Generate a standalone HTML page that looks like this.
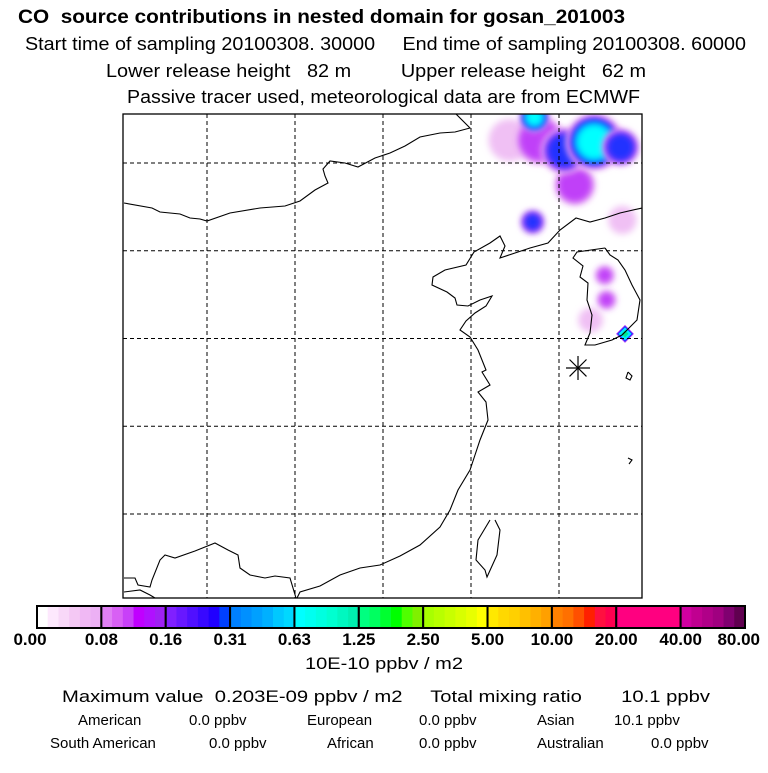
<!DOCTYPE html>
<html><head><meta charset="utf-8"><style>
body{margin:0;background:#fff;}
svg text{font-family:"Liberation Sans",Arial,sans-serif;white-space:pre;}
</style></head><body>
<svg id="chart" width="768" height="768" viewBox="0 0 768 768" xmlns="http://www.w3.org/2000/svg" xml:space="preserve">
<defs>
<filter id="blur" x="-50%" y="-50%" width="200%" height="200%"><feGaussianBlur stdDeviation="3.5"/></filter>
<clipPath id="mapclip"><rect x="123" y="114" width="519" height="484"/></clipPath>
</defs>
<g font-size="18" fill="#000">
<text x="18" y="23" font-weight="bold" font-size="19" textLength="607" lengthAdjust="spacingAndGlyphs">CO  source contributions in nested domain for gosan_201003</text>
<text x="25" y="50" textLength="721" lengthAdjust="spacingAndGlyphs">Start time of sampling 20100308. 30000     End time of sampling 20100308. 60000</text>
<text x="106" y="77" textLength="540" lengthAdjust="spacingAndGlyphs">Lower release height   82 m         Upper release height   62 m</text>
<text x="127" y="103" textLength="513" lengthAdjust="spacingAndGlyphs">Passive tracer used, meteorological data are from ECMWF</text>
</g>
<g id="plume" clip-path="url(#mapclip)"></g>
<g id="grid" stroke="#000" stroke-width="1" stroke-dasharray="4,3"></g>
<g clip-path="url(#mapclip)" fill="none" stroke="#000" stroke-width="1.1">
<polyline points="124,203 152,208 160,212 180,214 190,218 200,219 207,221 230,213 260,208 285,206 300,201 315,190 328,183 325,176 323,169 330,161 345,163 358,167 375,158 390,153 405,146 420,137 440,133 455,132 470,128 456,114"/>
<polyline points="124,578 135,578 138,585 150,587 152,580 160,560 165,555 175,558 195,551 215,543 228,550 238,555 240,568 250,575 265,578 275,576 290,578 296,598"/>
<polyline points="124,592 140,590 150,595 155,598"/>
<polyline points="642,208 620,213 605,218 590,222 576,218 560,230 548,243 530,248 515,253 500,258 505,246 500,236 490,243 474,252 466,265 445,270 433,277 432,285 447,292 455,298 457,305 468,306 480,300 492,296 486,306 475,313 466,321 460,330 470,337 478,350 486,370 482,372 490,385 478,392 486,402 488,420 480,440 475,455 470,470 458,490 450,510 440,527 420,545 400,556 380,565 360,568 340,575 320,586 300,592 297,598"/>
<polyline points="490,520 478,540 476,560 485,570 487,577 497,555 500,530 495,520"/>
<polyline points="605,248 577,252 573,258 583,266 580,277 588,283 587,300 592,315 590,333 585,345 595,345 612,340 622,335 637,320 640,300 632,285 625,270 618,260 610,255 605,248"/>
<polyline points="628,372 632,376 630,380 626,378 628,372"/>
<polyline points="628,458 632,460 629,464"/>
</g>
<g id="marker" stroke="#000" stroke-width="1.2"></g>
<rect x="123" y="114" width="519" height="484" fill="none" stroke="#000" stroke-width="1.3"/>
<g id="colorbar"></g>
<text x="305" y="669" font-size="17" textLength="158" lengthAdjust="spacingAndGlyphs">10E-10 ppbv / m2</text>
<g fill="#000">
<text x="62" y="702" font-size="17" textLength="648" lengthAdjust="spacingAndGlyphs">Maximum value  0.203E-09 ppbv / m2     Total mixing ratio       10.1 ppbv</text>
<text x="78" y="725" font-size="15">American</text>
<text x="189" y="725" font-size="15">0.0 ppbv</text>
<text x="307" y="725" font-size="15">European</text>
<text x="419" y="725" font-size="15">0.0 ppbv</text>
<text x="537" y="725" font-size="15">Asian</text>
<text x="614" y="725" font-size="15">10.1 ppbv</text>
<text x="50" y="748" font-size="15">South American</text>
<text x="209" y="748" font-size="15">0.0 ppbv</text>
<text x="327" y="748" font-size="15">African</text>
<text x="419" y="748" font-size="15">0.0 ppbv</text>
<text x="537" y="748" font-size="15">Australian</text>
<text x="651" y="748" font-size="15">0.0 ppbv</text>
</g>
</svg>
<script>
const NS="http://www.w3.org/2000/svg";
const gridLons=[105,110,115,120,125];
const gridLats=[45,40,35,30,25];
const colorbarLabels=["0.00","0.08","0.16","0.31","0.63","1.25","2.50","5.00","10.00","20.00","40.00","80.00"];
const colorbarSegments=[
["#ffffff","#fde8fd","#f8d8f8","#f4c8f4","#f0b8f4","#ecb0f4"],
["#e080f4","#d860f4","#c840f8","#c000ff","#b010ff","#a020f4"],
["#8020ff","#6818ff","#5010ff","#3808ff","#2000ff","#0040ff"],
["#0080ff","#0090ff","#00a0ff","#00b0ff","#00c8ff","#00d8ff"],
["#00ffff","#00fff0","#00ffe0","#00ffd0","#00f8c0","#00f0b0"],
["#00ff80","#00ff60","#00ff30","#00ff00","#50ff00","#80f000"],
["#a8ff00","#b8ff00","#c8ff00","#d8ff00","#e8ff00","#ffff00"],
["#ffe800","#ffd800","#ffd000","#ffc000","#ffb000","#ffa000"],
["#ff8000","#ff7000","#ff5000","#ff2000","#ff1040","#ff0050"],
["#ff0080","#ff0080","#ff0080","#ff0080","#ff0080","#ff0080"],
["#d000a0","#c00090","#b00088","#a00080","#800070","#600050"]];
// plume blobs: lon, lat, radius(deg), colour level
const blobLon=[122.2,123.9,125.9,125.3,127.0,128.5,123.6,123.5,128.6,127.6,127.7,126.8];
const blobLat=[46.3,46.3,43.75,45.7,46.2,45.9,47.6,41.64,41.75,38.6,37.2,36.05];
const blobRad=[1.2,1.2,1.0,1.0,1.0,0.8,0.5,0.5,0.8,0.45,0.45,0.7];
const blobLevel=[0,1,1,2,4,2,4,2,0,1,1,0];
const levelColors=["#f0c0f4","#c040f8","#2030ff","#0090ff","#00ffff"];
const peakLon=[128.75], peakLat=[35.26];
const sourceLon=[126.08], sourceLat=[33.32];

const x0=123,x1=642,y0=114,y1=598;
const pxPerDeg=17.6, pxPerLat=17.55;
const xs=l=>207+(l-105)*pxPerDeg;
const ys=l=>163+(45-l)*pxPerLat;

const grid=document.getElementById('grid');
gridLons.forEach(l=>{const e=document.createElementNS(NS,'line');
e.setAttribute('x1',xs(l));e.setAttribute('x2',xs(l));e.setAttribute('y1',y0);e.setAttribute('y2',y1);


grid.appendChild(e);});
gridLats.forEach(l=>{const e=document.createElementNS(NS,'line');
e.setAttribute('y1',ys(l));e.setAttribute('y2',ys(l));e.setAttribute('x1',x0);e.setAttribute('x2',x1);


grid.appendChild(e);});

const plume=document.getElementById('plume');
blobLon.forEach((l,i)=>{
 const lvl=blobLevel[i];
 for(let k=0;k<=lvl;k++){
  const e=document.createElementNS(NS,'circle');
  e.setAttribute('cx',xs(l));e.setAttribute('cy',ys(blobLat[i]));
  e.setAttribute('r',blobRad[i]*pxPerDeg*(1+0.15*(lvl-k)));
  e.setAttribute('fill',levelColors[k]);
  e.setAttribute('filter','url(#blur)');
  
  
  plume.appendChild(e);
 }
});
peakLon.forEach((l,i)=>{
 const cx=xs(l),cy=ys(peakLat[i]);
 [[9,'#c040f8'],[8,'#2030ff'],[6.5,'#00e8ff'],[3.5,'#00e890']].forEach(([r,c])=>{
  const p=document.createElementNS(NS,'polygon');
  p.setAttribute('points',`${cx},${cy-r} ${cx+r},${cy} ${cx},${cy+r} ${cx-r},${cy}`);
  p.setAttribute('fill',c);
  
  
  plume.appendChild(p);
 });
});

const mk=document.getElementById('marker');
sourceLon.forEach((l,i)=>{const cx=xs(l),cy=ys(sourceLat[i]);
 for(let a=0;a<4;a++){const ang=a*Math.PI/4;const e=document.createElementNS(NS,'line');
 e.setAttribute('x1',cx-12*Math.cos(ang));e.setAttribute('x2',cx+12*Math.cos(ang));
 e.setAttribute('y1',cy-12*Math.sin(ang));e.setAttribute('y2',cy+12*Math.sin(ang));
 
 
 mk.appendChild(e);}});

const cb=document.getElementById('colorbar');
const cbx0=37,cbx1=745,cby=606,cbh=22;
const segW=(cbx1-cbx0)/colorbarSegments.length;
colorbarSegments.forEach((seg,i)=>{
 seg.forEach((c,j)=>{const r=document.createElementNS(NS,'rect');
  r.setAttribute('x',cbx0+i*segW+j*segW/seg.length);r.setAttribute('y',cby);
  r.setAttribute('width',segW/seg.length+0.5);r.setAttribute('height',cbh);r.setAttribute('fill',c);
  
  
  cb.appendChild(r);});
 const b=document.createElementNS(NS,'rect');
 b.setAttribute('x',cbx0+i*segW);b.setAttribute('y',cby);b.setAttribute('width',segW);b.setAttribute('height',cbh);
 b.setAttribute('fill','none');b.setAttribute('stroke','#000');b.setAttribute('stroke-width','2');
 
 
 cb.appendChild(b);
});
colorbarLabels.forEach((t,i)=>{const e=document.createElementNS(NS,'text');
 let x=cbx0+i*segW;
 if(i===colorbarLabels.length-1)x=760;
 if(i===0)x=30;
 e.setAttribute('x',x);e.setAttribute('y',645);e.setAttribute('font-size','17');e.setAttribute('font-weight','bold');
 e.setAttribute('text-anchor',i===colorbarLabels.length-1?'end':'middle');
 e.textContent=t;
 
 
 cb.appendChild(e);});
</script>
</body></html>
